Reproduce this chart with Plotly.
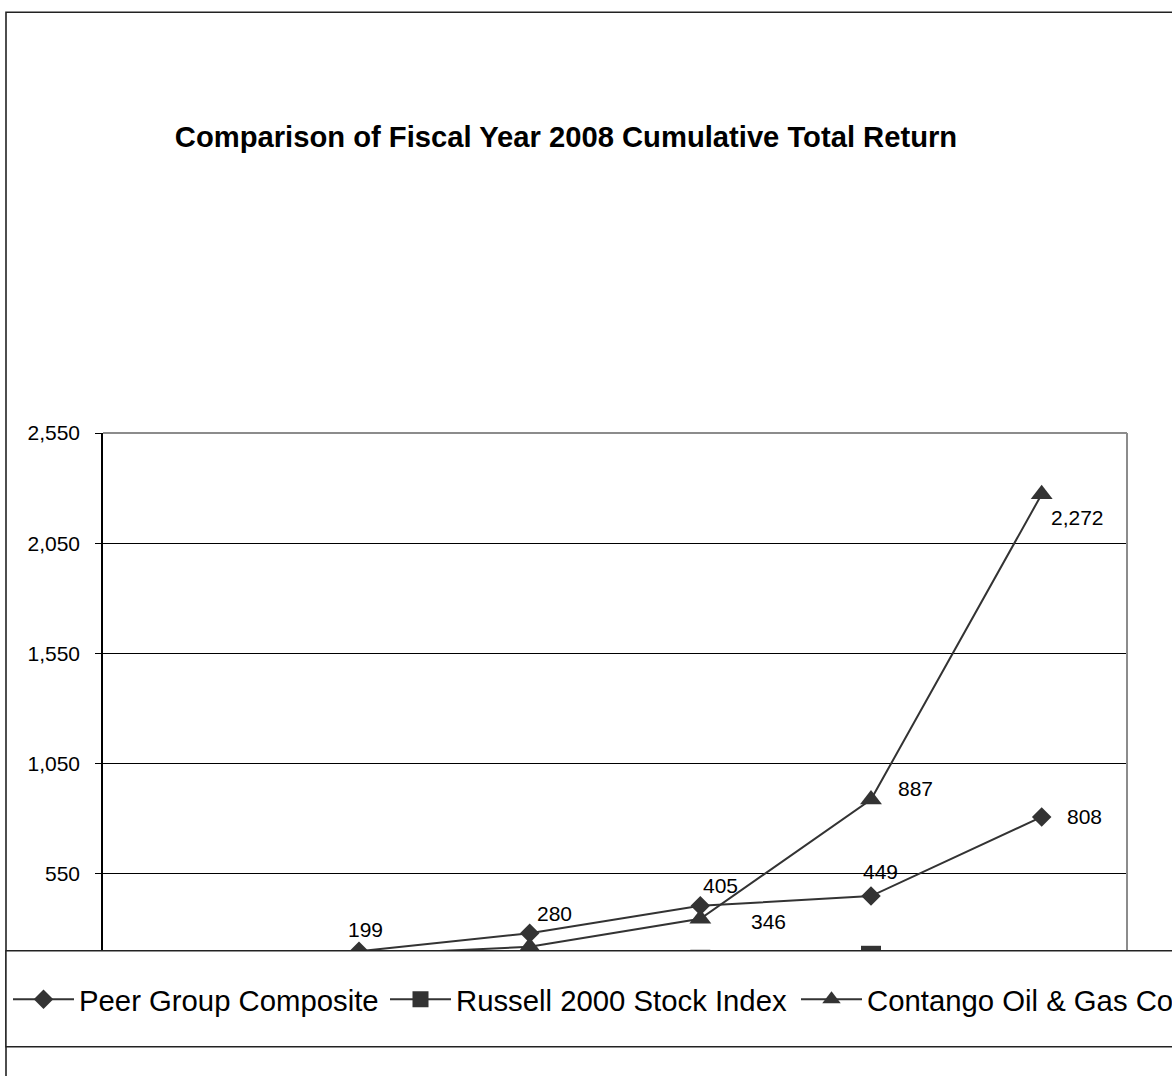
import plotly.graph_objects as go

# ---------------- data ----------------
years = ["2003", "2004", "2005", "2006", "2007", "2008"]
peer_group = [100, 199, 280, 405, 449, 808]
russell_2000 = [100, 128, 140, 160, 178, 152]
contango = [100, 183, 219, 346, 887, 2272]
y_ticks = [550, 1050, 1550, 2050, 2550]

title_text = "Comparison of Fiscal Year 2008 Cumulative Total Return"
series_names = ["Peer Group Composite", "Russell 2000 Stock Index", "Contango Oil & Gas Company"]

# ---------------- layout geometry (pixels) ----------------
W, H = 1172, 1076
PL, PR = 103, 1127          # plot area left / right
PT = 433                     # pixel of y = 2550
PX_PER_UNIT = 110.25 / 500
Y_MIN, Y_MAX = 50, 2550
PB = PT + (Y_MAX - Y_MIN) * PX_PER_UNIT   # plot bottom pixel
PW, PH = PR - PL, PB - PT

def px_x(px):
    return (px - PL) / PW

def px_y(py):
    return (PB - py) / PH

FONT = "Liberation Sans, Arial, sans-serif"
DARK = "#333333"

fig = go.Figure()

series = [
    (series_names[0], peer_group, "diamond", 15, "legend"),
    (series_names[1], russell_2000, "square", 20, "legend2"),
    (series_names[2], contango, "triangle-up", 19, "legend3"),
]
for name, vals, sym, size, leg in series:
    fig.add_trace(go.Scatter(
        x=years, y=vals, name=name, mode="lines+markers",
        line=dict(color=DARK, width=2),
        marker=dict(symbol=sym, size=size, color=DARK),
        legend=leg, hoverinfo="skip",
    ))

# data labels (only those visible in the original); offsets in px (right, up)
label_style = {
    (0, 1): (6, 22), (0, 2): (25, 20), (0, 3): (20, 20), (0, 4): (9, 25), (0, 5): (43, 0),
    (2, 3): (68, -3), (2, 4): (44, 11), (2, 5): (36, -23),
}
all_vals = [peer_group, russell_2000, contango]
annotations = []
for (si, idx), (dx, dy) in label_style.items():
    v = all_vals[si][idx]
    annotations.append(dict(
        x=idx, y=v, xref="x", yref="y", text=f"{v:,}", showarrow=False,
        xshift=dx, yshift=dy, xanchor="center", yanchor="middle",
        font=dict(family=FONT, size=21, color="black"),
    ))

shapes = [
    # outer chart border (runs off the right/bottom edges)
    dict(type="rect", xref="paper", yref="paper",
         x0=px_x(6), x1=px_x(1250), y0=px_y(1150), y1=px_y(12),
         line=dict(color="#222222", width=1.6), fillcolor="rgba(0,0,0,0)", layer="above"),
    # gray plot border top & right
    dict(type="line", xref="paper", yref="paper", x0=0, x1=1, y0=1, y1=1,
         line=dict(color="#8c8c8c", width=2), layer="above"),
    dict(type="line", xref="paper", yref="paper", x0=1, x1=1, y0=0, y1=1,
         line=dict(color="#8c8c8c", width=2), layer="above"),
    # legend box covering the lower part of the plot
    dict(type="rect", xref="paper", yref="paper",
         x0=px_x(6), x1=px_x(1250), y0=px_y(1047), y1=px_y(951),
         line=dict(color="#222222", width=1.4), fillcolor="white", layer="above"),
]

leg_common = dict(orientation="h", xref="paper", yref="paper", xanchor="left",
                  yanchor="middle", bgcolor="rgba(0,0,0,0)", borderwidth=0,
                  itemwidth=61, font=dict(family=FONT, size=29.3, color="black"))
ly = px_y(1000)
fig.update_layout(
    width=W, height=H,
    margin=dict(l=PL, r=W - PR, t=PT, b=H - PB, autoexpand=False, pad=0),
    paper_bgcolor="white", plot_bgcolor="white",
    title=dict(text=title_text, x=566 / W, xref="container", xanchor="center",
               y=1 - 137 / H, yref="container", yanchor="middle",
               font=dict(family=FONT, size=29.2, color="black", weight="bold")),
    showlegend=True,
    legend=dict(x=px_x(8), y=ly, **leg_common),
    legend2=dict(x=px_x(385), y=ly, **leg_common),
    legend3=dict(x=px_x(796), y=ly, **leg_common),
    shapes=shapes,
    annotations=annotations,
    xaxis=dict(type="category", range=[-0.5, 5.5], showgrid=False, showline=False,
               showticklabels=False, ticks="", zeroline=False, fixedrange=True),
    yaxis=dict(range=[Y_MIN, Y_MAX], tickvals=y_ticks, tickformat=",",
               showgrid=True, gridcolor="black", gridwidth=1,
               showline=True, linecolor="black", linewidth=1.5,
               ticks="outside", ticklen=6, tickcolor="black", tickwidth=1,
               ticklabelstandoff=11, zeroline=False,
               tickfont=dict(family=FONT, size=21, color="black")),
)

# remove the default 8px page margin so the figure sits at the window's top-left
fig.write_html("out.html", config={"displayModeBar": False},
               post_script="document.body.style.margin='0';")
